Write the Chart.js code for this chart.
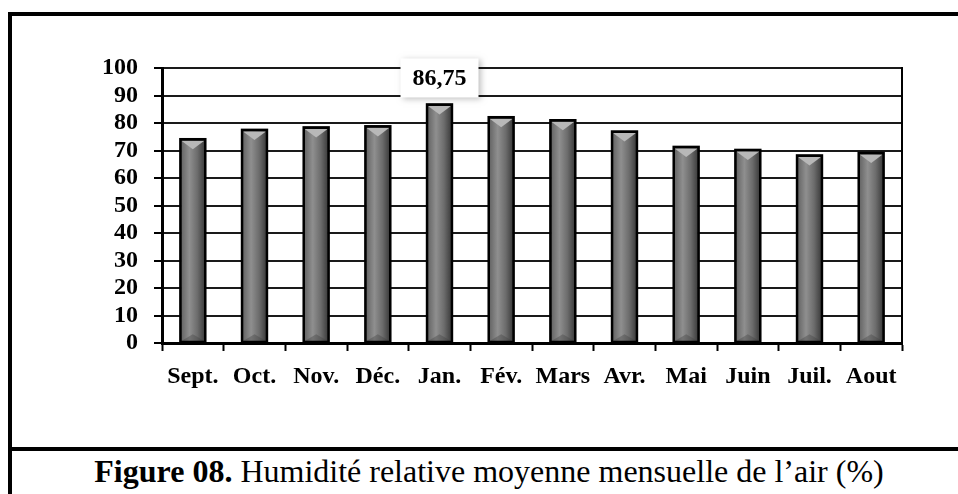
<!DOCTYPE html>
<html lang="fr">
<head>
<meta charset="utf-8">
<script src="https://cdn.jsdelivr.net/npm/chart.js@4.4.0/dist/chart.umd.min.js"></script>
<style>
    html, body { margin: 0; padding: 0; background: #fff; }
    body { width: 958px; height: 494px; position: relative; overflow: hidden; font-family: "Liberation Serif", serif; }
    #frame { position: absolute; left: 8px; top: 12px; right: -10px; bottom: -10px; border-left: 4px solid #000; border-top: 4px solid #000; }
    #sep { position: absolute; left: 8px; top: 447px; width: 960px; height: 4px; background: #000; }
    #wrap { position: absolute; left: 12px; top: 15px; width: 946px; height: 432px; }
    #caption { position: absolute; left: 12px; top: 452px; width: 954px; text-align: center; font-size: 32px; color: #000; line-height: 38px; }
</style>
</head>
<body>
<div id="frame"></div>
<div id="sep"></div>
<div id="wrap"><canvas id="humChart"></canvas></div>
<div id="caption"><b>Figure 08.</b> Humidité relative moyenne mensuelle de l’air (%)</div>
<script>
// données
const mois = ['Sept.', 'Oct.', 'Nov.', 'Déc.', 'Jan.', 'Fév.', 'Mars', 'Avr.', 'Mai', 'Juin', 'Juil.', 'Aout'];
const humidite = [74.1, 77.5, 78.4, 78.8, 86.75, 82.1, 81.0, 76.9, 71.3, 70.2, 68.2, 69.1];
const etiquettes = { 4: '86,75' };  // seule valeur affichée

const police = { family: '"Liberation Serif", serif', weight: 'bold', size: 24 };

// barres façon "cylindre" + cadre droit + étiquette
const decorPlugin = {
    id: 'decor',
    afterDatasetsDraw(chart) {
        const ctx = chart.ctx;
        const meta = chart.getDatasetMeta(0);
        ctx.save();
        meta.data.forEach((bar, i) => {
            const w = bar.width;
            const x0 = bar.x - w / 2 + 1.5;
            const x1 = bar.x + w / 2 - 1.5;
            const top = bar.y + 1.5;
            const bot = bar.base - 1;
            const g = ctx.createLinearGradient(x0, 0, x1, 0);
            g.addColorStop(0, '#666');
            g.addColorStop(0.35, '#8f8f8f');
            g.addColorStop(0.7, '#6c6c6c');
            g.addColorStop(1, '#3e3e3e');
            ctx.fillStyle = g;
            ctx.fillRect(x0, top, x1 - x0, bot - top);
            // biseau haut
            const bw = (x1 - x0) / 2;
            ctx.fillStyle = '#b8b8b8';
            ctx.beginPath();
            ctx.moveTo(x0, top);
            ctx.lineTo(x1, top);
            ctx.lineTo(bar.x, top + bw * 0.75);
            ctx.closePath();
            ctx.fill();
            // biseau bas
            ctx.fillStyle = 'rgba(60,60,60,0.35)';
            ctx.beginPath();
            ctx.moveTo(x0, bot);
            ctx.lineTo(bar.x, bot - bw * 0.6);
            ctx.lineTo(x1, bot);
            ctx.closePath();
            ctx.fill();
            ctx.strokeStyle = '#000';
            ctx.lineWidth = 2.5;
            ctx.strokeRect(bar.x - w / 2 + 0.5, bar.y, w - 1, bar.base - bar.y);

            if (etiquettes[i]) {
                ctx.font = 'bold 24px "Liberation Serif", serif';
                const tw = ctx.measureText(etiquettes[i]).width;
                const bx = bar.x - tw / 2 - 12;
                const by = bar.y - 46;
                ctx.shadowColor = 'rgba(0,0,0,0.25)';
                ctx.shadowBlur = 6;
                ctx.shadowOffsetX = 2;
                ctx.shadowOffsetY = 2;
                ctx.fillStyle = '#fff';
                ctx.fillRect(bx, by, tw + 24, 39);
                ctx.shadowColor = 'transparent';
                ctx.fillStyle = '#000';
                ctx.textAlign = 'center';
                ctx.textBaseline = 'middle';
                ctx.fillText(etiquettes[i], bar.x, by + 20);
            }
        });
        // bord droit de la zone de tracé
        const a = chart.chartArea;
        ctx.strokeStyle = '#000';
        ctx.lineWidth = 2;
        ctx.beginPath();
        ctx.moveTo(a.right, a.top - 1);
        ctx.lineTo(a.right, a.bottom);
        ctx.stroke();
        ctx.restore();
    }
};

new Chart(document.getElementById('humChart'), {
    type: 'bar',
    data: {
        labels: mois,
        datasets: [{
            data: humidite,
            backgroundColor: '#7a7a7a',
            borderColor: '#000',
            borderWidth: 2,
            barPercentage: 0.42,
            categoryPercentage: 1
        }]
    },
    options: {
        responsive: true,
        maintainAspectRatio: false,
        animation: false,
        layout: { padding: { top: 53, right: 56, left: 0, bottom: 0 } },
        plugins: {
            legend: { display: false },
            tooltip: { enabled: false }
        },
        scales: {
            y: {
                min: 0,
                max: 100,
                afterFit: s => { s.width = 150; },
                ticks: { stepSize: 10, autoSkip: false, color: '#000', font: police, padding: 16 },
                grid: { color: '#1a1a1a', lineWidth: 2, tickLength: 8, tickColor: '#000', tickWidth: 2 },
                border: { color: '#000', width: 3 }
            },
            x: {
                afterFit: s => { s.height = 104; },
                ticks: { color: '#000', font: police, padding: 11, maxRotation: 0, autoSkip: false },
                grid: { offset: true, drawOnChartArea: false, tickLength: 8, tickColor: '#000', tickWidth: 2 },
                border: { color: '#000', width: 3 }
            }
        }
    },
    plugins: [decorPlugin]
});
</script>
</body>
</html>
